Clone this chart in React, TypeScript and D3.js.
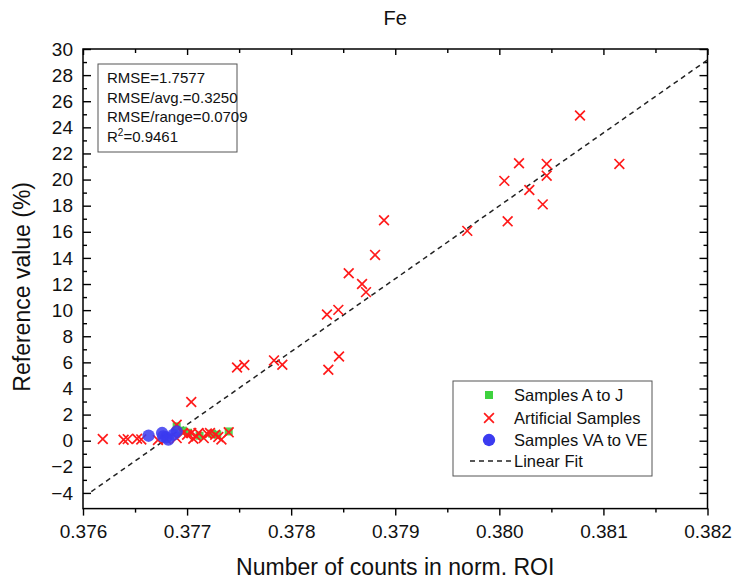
import React, { useRef, useEffect } from 'react';
import * as d3 from 'd3';

// values
const samplesAJ: [number, number][] = [
  [0.3769, 1.1], [0.37696, 0.77], [0.37701, 0.61], [0.37712, 0.38],
  [0.37724, 0.54], [0.37729, 0.46], [0.3774, 0.71],
];

const artificial: [number, number][] = [
  [0.380775, 24.9], [0.380189, 21.25], [0.380455, 21.2], [0.381153, 21.2],
  [0.380048, 19.9], [0.380455, 20.3], [0.380288, 19.2], [0.380417, 18.1],
  [0.38008, 16.8], [0.379692, 16.07], [0.378892, 16.89], [0.378806, 14.23],
  [0.378553, 12.83], [0.378681, 12.0], [0.378719, 11.38], [0.378344, 9.67],
  [0.378453, 10.02], [0.377835, 6.15], [0.377915, 5.82], [0.37846, 6.45],
  [0.378357, 5.43], [0.37748, 5.6], [0.37755, 5.8], [0.37704, 2.96],
  [0.37619, 0.13], [0.37639, 0.08], [0.37643, 0.12], [0.37652, 0.15],
  [0.37656, 0.1], [0.37672, 0.05], [0.3768, 0.12], [0.3769, 1.22],
  [0.3769, 0.2], [0.37696, 0.59], [0.377, 0.46], [0.37704, 0.59],
  [0.37706, 0.15], [0.37709, 0.33], [0.37711, 0.59], [0.37716, 0.2],
  [0.37719, 0.55], [0.37722, 0.59], [0.37727, 0.46], [0.3773, 0.28],
  [0.37733, 0.1], [0.3774, 0.64],
];

const samplesVAVE: [number, number][] = [
  [0.37663, 0.38], [0.37676, 0.59], [0.37677, 0.33], [0.3768, 0.25],
  [0.37682, 0.08], [0.37687, 0.46], [0.3769, 0.71],
];

const fitLine: [number, number][] = [
  [0.37608, -3.9],
  [0.382, 29.16],
];

const xTicks = [0.376, 0.377, 0.378, 0.379, 0.38, 0.381, 0.382];
const xMinor = [0.3765, 0.3775, 0.3785, 0.3795, 0.3805, 0.3815];
const yTicks = [-4, -2, 0, 2, 4, 6, 8, 10, 12, 14, 16, 18, 20, 22, 24, 26, 28, 30];
const yMinor = [-3, -1, 1, 3, 5, 7, 9, 11, 13, 15, 17, 19, 21, 23, 25, 27, 29];

const statsLines = ['RMSE=1.7577', 'RMSE/avg.=0.3250', 'RMSE/range=0.0709'];

const FONT = '"Liberation Sans", Arial, sans-serif';

const App = () => {
  const svgRef = useRef(null);

  useEffect(() => {
    document.body.style.margin = '0';
    d3.select(svgRef.current).selectAll('*').remove();
    const svg = d3.select(svgRef.current);

    const left = 83, right = 707.5, top = 49, bottom = 508.6;

    const x = d3.scaleLinear().domain([0.376, 0.382]).range([left, right]);
    const y = d3.scaleLinear().domain([-5.2, 30]).range([bottom, top]);

    svg.append('rect').attr('width', 734).attr('height', 580).attr('fill', '#fff');

    // frame
    svg
      .append('rect')
      .attr('x', left)
      .attr('y', top)
      .attr('width', right - left)
      .attr('height', bottom - top)
      .attr('fill', 'none')
      .attr('stroke', '#000')
      .attr('stroke-width', 1.5);

    const styleAxis = (g) => {
      g.select('.domain').remove();
      g.selectAll('line').attr('stroke', '#000').attr('stroke-width', 1.4);
      g.selectAll('text').attr('font-family', FONT).attr('fill', '#111');
    };

    // bottom axis (ticks outside)
    svg
      .append('g')
      .attr('transform', `translate(0,${bottom})`)
      .call(d3.axisBottom(x).tickValues(xTicks).tickSize(7).tickPadding(9).tickFormat(d3.format('.3f')))
      .call(styleAxis)
      .selectAll('text')
      .style('font-size', '19px');
    svg
      .append('g')
      .attr('transform', `translate(0,${bottom})`)
      .call(d3.axisBottom(x).tickValues(xMinor).tickSize(4).tickFormat(() => ''))
      .call(styleAxis);

    // top axis (ticks inside)
    svg
      .append('g')
      .attr('transform', `translate(0,${top})`)
      .call(d3.axisTop(x).tickValues(xTicks).tickSize(-6).tickFormat(() => ''))
      .call(styleAxis);
    svg
      .append('g')
      .attr('transform', `translate(0,${top})`)
      .call(d3.axisTop(x).tickValues(xMinor).tickSize(-4).tickFormat(() => ''))
      .call(styleAxis);

    // left axis (ticks inside)
    svg
      .append('g')
      .attr('transform', `translate(${left},0)`)
      .call(d3.axisLeft(y).tickValues(yTicks).tickSize(-8).tickPadding(10))
      .call(styleAxis)
      .selectAll('text')
      .style('font-size', '19px');
    svg
      .append('g')
      .attr('transform', `translate(${left},0)`)
      .call(d3.axisLeft(y).tickValues(yMinor).tickSize(-4).tickFormat(() => ''))
      .call(styleAxis);

    // right axis (ticks inside)
    svg
      .append('g')
      .attr('transform', `translate(${right},0)`)
      .call(d3.axisRight(y).tickValues(yTicks).tickSize(-8).tickFormat(() => ''))
      .call(styleAxis);
    svg
      .append('g')
      .attr('transform', `translate(${right},0)`)
      .call(d3.axisRight(y).tickValues(yMinor).tickSize(-4).tickFormat(() => ''))
      .call(styleAxis);

    // linear fit
    svg
      .append('path')
      .datum(fitLine)
      .attr('d', d3.line().x((d) => x(d[0])).y((d) => y(d[1])))
      .attr('fill', 'none')
      .attr('stroke', '#222')
      .attr('stroke-width', 1.5)
      .attr('stroke-dasharray', '5,4');

    const cross = d3.symbol().type(d3.symbolX).size(64);
    const square = d3.symbol().type(d3.symbolSquare).size(64);
    const circle = d3.symbol().type(d3.symbolCircle).size(120);

    // Samples A to J
    svg
      .append('g')
      .selectAll('path')
      .data(samplesAJ)
      .join('path')
      .attr('transform', (d) => `translate(${x(d[0])},${y(d[1])})`)
      .attr('d', square)
      .attr('fill', '#3ed23e')
      .attr('fill-opacity', 0.9);

    // Artificial samples
    svg
      .append('g')
      .selectAll('path')
      .data(artificial)
      .join('path')
      .attr('transform', (d) => `translate(${x(d[0])},${y(d[1])})`)
      .attr('d', cross)
      .attr('fill', 'none')
      .attr('stroke', '#ff1a1a')
      .attr('stroke-width', 1.7);

    // Samples VA to VE
    svg
      .append('g')
      .selectAll('path')
      .data(samplesVAVE)
      .join('path')
      .attr('transform', (d) => `translate(${x(d[0])},${y(d[1])})`)
      .attr('d', circle)
      .attr('fill', '#3b3bf0')
      .attr('fill-opacity', 0.85);

    // stats box
    svg
      .append('rect')
      .attr('x', 98)
      .attr('y', 64)
      .attr('width', 139)
      .attr('height', 88)
      .attr('fill', '#fff')
      .attr('stroke', '#555')
      .attr('stroke-width', 1);
    const stats = svg
      .append('g')
      .attr('font-family', FONT)
      .attr('font-size', 15)
      .attr('fill', '#111');
    statsLines.forEach((s, i) => {
      stats.append('text').attr('x', 107).attr('y', 83 + i * 19.5).text(s);
    });
    const r2 = stats.append('text').attr('x', 107).attr('y', 83 + 3 * 19.5);
    r2.append('tspan').text('R');
    r2.append('tspan').attr('font-size', 10).attr('dy', -6).text('2');
    r2.append('tspan').attr('dy', 6).text('=0.9461');

    // legend
    svg
      .append('rect')
      .attr('x', 453)
      .attr('y', 381)
      .attr('width', 199)
      .attr('height', 95)
      .attr('fill', '#fff')
      .attr('stroke', '#555')
      .attr('stroke-width', 1);
    const lg = svg.append('g').attr('font-family', FONT).attr('font-size', 16.5).attr('fill', '#111');
    const rows = [
      { label: 'Samples A to J', y: 395 },
      { label: 'Artificial Samples', y: 418 },
      { label: 'Samples VA to VE', y: 440 },
      { label: 'Linear Fit', y: 461 },
    ];
    rows.forEach((r) => {
      lg.append('text').attr('x', 514).attr('y', r.y + 6).text(r.label);
    });
    lg.append('path').attr('transform', 'translate(489,395)').attr('d', square).attr('fill', '#3ed23e');
    lg
      .append('path')
      .attr('transform', 'translate(489,418)')
      .attr('d', cross)
      .attr('fill', 'none')
      .attr('stroke', '#ff1a1a')
      .attr('stroke-width', 1.7);
    lg.append('path').attr('transform', 'translate(489,440)').attr('d', circle).attr('fill', '#3b3bf0');
    lg
      .append('line')
      .attr('x1', 470)
      .attr('x2', 511)
      .attr('y1', 461)
      .attr('y2', 461)
      .attr('stroke', '#222')
      .attr('stroke-width', 1.5)
      .attr('stroke-dasharray', '5,4');

    // titles
    svg
      .append('text')
      .attr('x', (left + right) / 2)
      .attr('y', 25)
      .attr('text-anchor', 'middle')
      .attr('font-family', FONT)
      .attr('font-size', 20)
      .attr('fill', '#111')
      .text('Fe');
    svg
      .append('text')
      .attr('x', (left + right) / 2)
      .attr('y', 575)
      .attr('text-anchor', 'middle')
      .attr('font-family', FONT)
      .attr('font-size', 23)
      .attr('fill', '#111')
      .text('Number of counts in norm. ROI');
    svg
      .append('text')
      .attr('transform', `translate(30,${(top + bottom) / 2 + 8}) rotate(-90)`)
      .attr('text-anchor', 'middle')
      .attr('font-family', FONT)
      .attr('font-size', 23)
      .attr('fill', '#111')
      .text('Reference value (%)');
  }, []);

  return <svg ref={svgRef} width={734} height={580} style={{ display: 'block' }}></svg>;
};

export default App;
